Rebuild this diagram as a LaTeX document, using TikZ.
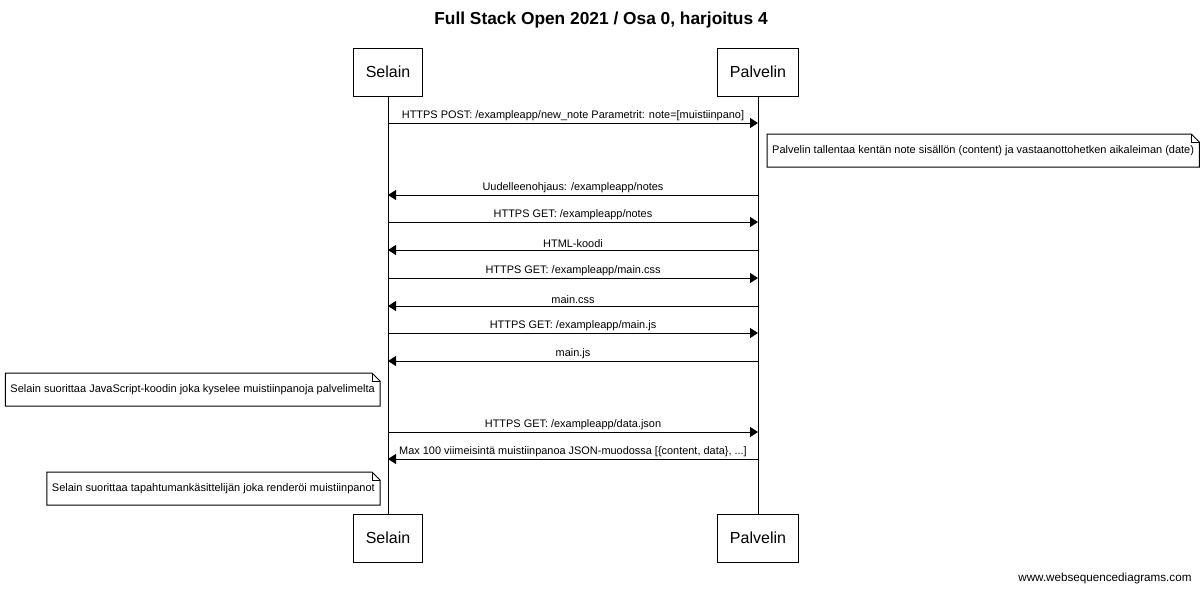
\documentclass[tikz,border=0pt]{standalone}
\usepackage{fontspec}
\setmainfont{Liberation Sans}
\usetikzlibrary{arrows.meta, positioning}
\tikzset{
  actor/.style={draw, inner xsep=9.5pt, minimum height=36pt, font=\fontsize{12}{14}\selectfont},
  msgline/.style={-{Triangle[length=6pt, width=7.5pt]}},
  msglabel/.style={above, inner sep=1.5pt, font=\fontsize{8.2}{10}\selectfont},
  notetext/.style={inner xsep=3.5pt, minimum height=24pt, font=\fontsize{8.25}{10}\selectfont}
}
\newcommand{\msg}[4]{ % #1: y (px), #2: sender, #3: receiver, #4: label
  \coordinate (row#1) at (0,#1);
  \draw[msgline] (#2 |- row#1) -- node[msglabel] (lbl#1) {#4} (#3 |- row#1);
}
\newcommand{\notebox}[4]{ % #1: name, #2: anchor, #3: position, #4: text
  \node[notetext, anchor=#2] (#1) at (#3) {#4};
  \draw (#1.north west) -- ([xshift=-6pt]#1.north east) -- ([yshift=-6pt]#1.north east) -- (#1.south east) -- (#1.south west) -- cycle; % note with folded corner
  \draw ([xshift=-6pt]#1.north east) |- ([yshift=-6pt]#1.north east);
}
\begin{document}
\begin{tikzpicture}[x=0.75pt, y=-0.75pt, line width=0.75pt]
\useasboundingbox (0,0) rectangle (1200,590);

% Title
\node[font=\bfseries\fontsize{13}{15}\selectfont] (title) at (601,20) {Full Stack Open 2021 / Osa 0, harjoitus 4};

% Participants, top and bottom
\node[actor] (selain) at (388,72) {Selain};
\node[actor] (palvelin) at (758,72) {Palvelin};
\node[actor] (selainbot) at (388,538) {Selain};
\node[actor] (palvelinbot) at (758,538) {Palvelin};

% Lifelines
\draw (selain) -- (selainbot);
\draw (palvelin) -- (palvelinbot);

% Messages
\msg{123}{selain}{palvelin}{HTTPS POST: /exampleapp/new\_note Parametrit: note=[muistiinpano]}
\notebox{save}{north west}{767,134}{Palvelin tallentaa kentän note sisällön (content) ja vastaanottohetken aikaleiman (date)}
\msg{195}{palvelin}{selain}{Uudelleenohjaus: /exampleapp/notes}
\msg{222}{selain}{palvelin}{HTTPS GET: /exampleapp/notes}
\msg{250}{palvelin}{selain}{HTML-koodi}
\msg{278}{selain}{palvelin}{HTTPS GET: /exampleapp/main.css}
\msg{306}{palvelin}{selain}{main.css}
\msg{333}{selain}{palvelin}{HTTPS GET: /exampleapp/main.js}
\msg{361}{palvelin}{selain}{main.js}
\notebox{runjs}{north east}{380,373}{Selain suorittaa JavaScript-koodin joka kyselee muistiinpanoja palvelimelta}
\msg{432}{selain}{palvelin}{HTTPS GET: /exampleapp/data.json}
\msg{459}{palvelin}{selain}{Max 100 viimeisintä muistiinpanoa JSON-muodossa [\{content, data\}, ...]}
\notebox{render}{north east}{380,472}{Selain suorittaa tapahtumankäsittelijän joka renderöi muistiinpanot}

% Footer
\node[anchor=east, inner sep=0pt, font=\fontsize{8.75}{10}\selectfont] (footer) at (1192,578) {www.websequencediagrams.com};

\end{tikzpicture}
\end{document}
